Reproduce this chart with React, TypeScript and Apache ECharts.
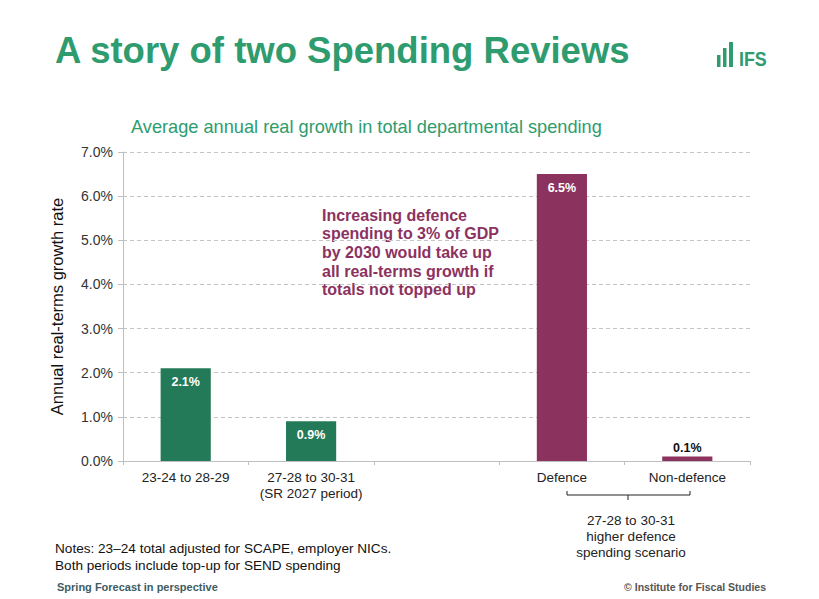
import React, { useEffect, useRef } from "react";
import * as echarts from "echarts";

// Average annual real growth (%) by period / scenario
const categories = [
  "23-24 to 28-29",
  "27-28 to 30-31\n(SR 2027 period)",
  "",
  "Defence",
  "Non-defence",
];
const growth = [2.1, 0.9, null, 6.5, 0.1];
const barColors = ["#237A58", "#237A58", "#237A58", "#8C325F", "#8C325F"];
const yTicks = { min: 0, max: 7, interval: 1 };

const FONT = "'Liberation Sans', Arial, sans-serif";
const GREEN = "#2E9C6E";
const PURPLE = "#8C325F";

const annotationLines = [
  "Increasing defence",
  "spending to 3% of GDP",
  "by 2030 would take up",
  "all real-terms growth if",
  "totals not topped up",
];

export default function App() {
  const ref = useRef<HTMLDivElement>(null);

  useEffect(() => {
    if (!ref.current) return;
    const chart = echarts.init(ref.current, null, { renderer: "svg" });

    const data = growth.map((v, i) => {
      if (v === null) return null;
      const small = v < 0.5;
      return {
        value: v,
        itemStyle: { color: barColors[i] },
        label: {
          show: true,
          position: small ? "top" : "insideTop",
          distance: small ? 2 : 7,
          color: small ? "#111" : "#fff",
          fontWeight: "bold",
          fontSize: 12.5,
          fontFamily: FONT,
          formatter: (p: any) => `${Number(p.value).toFixed(1)}%`,
        },
      };
    });

    chart.setOption({
      animation: false,
      backgroundColor: "#fff",
      grid: { left: 123, right: 69, top: 152, bottom: 138, containLabel: false },
      xAxis: {
        type: "category",
        data: categories,
        axisLine: { lineStyle: { color: "#BFBFBF", width: 1 } },
        axisTick: { show: true, length: 4, lineStyle: { color: "#BFBFBF" } },
        axisLabel: {
          color: "#222",
          fontSize: 13.5,
          fontFamily: FONT,
          lineHeight: 16,
          margin: 8,
          interval: 0,
        },
      },
      yAxis: {
        type: "value",
        min: yTicks.min,
        max: yTicks.max,
        interval: yTicks.interval,
        name: "Annual real-terms growth rate",
        nameLocation: "middle",
        nameGap: 58,
        nameTextStyle: { color: "#111", fontSize: 16.5, fontFamily: FONT },
        axisLine: { show: true, lineStyle: { color: "#BFBFBF" } },
        axisTick: { show: true, length: 5, lineStyle: { color: "#BFBFBF" } },
        axisLabel: {
          color: "#333",
          fontSize: 14,
          fontFamily: FONT,
          margin: 10,
          formatter: (v: number) => `${v.toFixed(1)}%`,
        },
        splitLine: { lineStyle: { color: "#C4C4C4", type: [4, 3] } },
      },
      series: [
        {
          type: "bar",
          data,
          barWidth: "40%",
        },
      ],
      graphic: [
        {
          type: "text",
          left: 55,
          top: 32,
          style: {
            text: "A story of two Spending Reviews",
            fill: GREEN,
            font: `bold 36.5px ${FONT}`,
          },
        },
        // IFS logo
        { type: "rect", shape: { x: 717, y: 55, width: 3.5, height: 12 }, style: { fill: GREEN } },
        { type: "rect", shape: { x: 723, y: 48, width: 3.5, height: 19 }, style: { fill: GREEN } },
        { type: "rect", shape: { x: 729, y: 42, width: 4, height: 25 }, style: { fill: GREEN } },
        {
          type: "text",
          x: 739,
          y: 47.5,
          style: { text: "IFS", fill: GREEN, font: `bold 21px ${FONT}` },
          scaleX: 0.85,
        },
        {
          type: "text",
          left: 131,
          top: 118,
          style: {
            text: "Average annual real growth in total departmental spending",
            fill: GREEN,
            font: `18.2px ${FONT}`,
          },
        },
        {
          type: "text",
          left: 322,
          top: 206,
          style: {
            text: annotationLines.join("\n"),
            fill: PURPLE,
            font: `bold 16px ${FONT}`,
            lineHeight: 18.6,
          },
        },
        // bracket grouping the defence scenario bars
        {
          type: "polyline",
          shape: { points: [[567, 491], [567, 495], [690, 495], [690, 491]] },
          style: { stroke: "#222", lineWidth: 1, fill: "none" },
        },
        {
          type: "line",
          shape: { x1: 628, y1: 495, x2: 628, y2: 500 },
          style: { stroke: "#222", lineWidth: 1 },
        },
        {
          type: "text",
          x: 631,
          y: 512,
          style: {
            text: "27-28 to 30-31\nhigher defence\nspending scenario",
            fill: "#222",
            font: `13.5px ${FONT}`,
            lineHeight: 16,
            align: "center",
            verticalAlign: "top",
          },
        },
        {
          type: "text",
          left: 55,
          top: 540,
          style: {
            text: "Notes: 23\u201324 total adjusted for SCAPE, employer NICs.\nBoth periods include top-up for SEND spending",
            fill: "#111",
            font: `13.6px ${FONT}`,
            lineHeight: 17,
          },
        },
        {
          type: "text",
          left: 57,
          top: 581,
          style: {
            text: "Spring Forecast in perspective",
            fill: "#3E5C62",
            font: `bold 11px ${FONT}`,
          },
        },
        {
          type: "text",
          right: 53,
          top: 581,
          style: {
            text: "\u00A9 Institute for Fiscal Studies",
            fill: "#555",
            font: `bold 10.5px ${FONT}`,
          },
        },
      ],
    });

    return () => chart.dispose();
  }, []);

  return (
    <div
      ref={ref}
      style={{ position: "absolute", top: 0, left: 0, width: 819, height: 599 }}
    />
  );
}
